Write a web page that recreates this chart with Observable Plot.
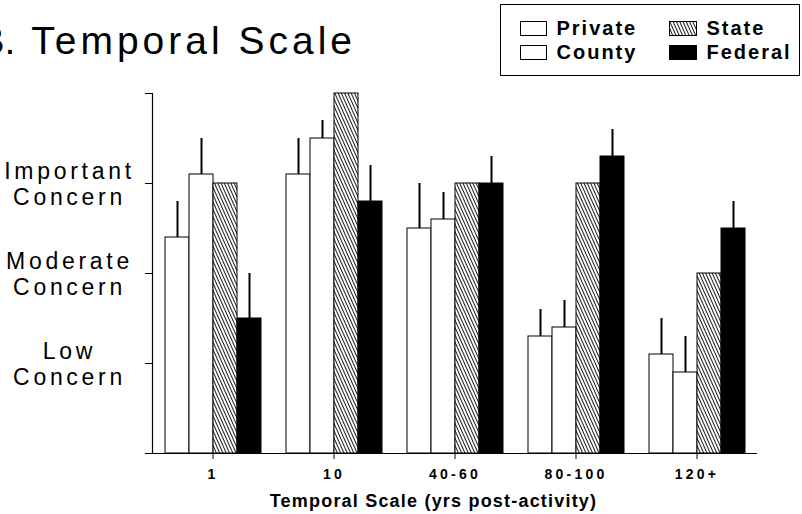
<!DOCTYPE html>
<html>
<head>
<meta charset="utf-8">
<script src="https://cdn.jsdelivr.net/npm/d3@7"></script>
<script src="https://cdn.jsdelivr.net/npm/@observablehq/plot@0.6"></script>
<style>
  html, body { margin: 0; padding: 0; background: #fff; }
  body { width: 802px; height: 514px; overflow: hidden; position: relative;
         font-family: "Liberation Sans", Arial, Helvetica, sans-serif; color: #000; }
  #chart { position: absolute; left: 0; top: 0; }
  #title { position: absolute; top: 21px; right: 446px; font-size: 39px; line-height: 1;
           letter-spacing: 4px; white-space: nowrap; }
  #title .lead { letter-spacing: 0; word-spacing: 5px; }
  #legend { position: absolute; left: 500px; top: 4px; width: 300px; height: 72px;
            box-sizing: border-box; border: 1.5px solid #000; background: #fff; }
  #legend .grid { position: absolute; left: 18.5px; top: 10.5px; display: grid;
                  grid-template-columns: 27px 102px 28px auto; grid-auto-rows: 24px;
                  column-gap: 10px; }
  #legend .sw { margin-top: 5px; height: 15px; box-sizing: border-box; }
  #legend .lab { font-size: 20px; font-weight: bold; letter-spacing: 2px; line-height: 24px; white-space: nowrap; }
  #caption { position: absolute; left: 433.5px; top: 492px; transform: translateX(-50%);
             font-size: 18px; font-weight: bold; letter-spacing: 1.2px; line-height: 1; white-space: nowrap; }
  #chart [aria-label="fx-axis tick label"] text { letter-spacing: 3.2px; font-size: 14px; font-weight: bold; }
  #chart [aria-label="y-axis tick label"] text { letter-spacing: 3.7px; }
</style>
</head>
<body>
<svg width="0" height="0" style="position:absolute">
  <defs>
    <pattern id="hatch" patternUnits="userSpaceOnUse" width="3" height="3" patternTransform="rotate(-24)">
      <rect width="3" height="3" fill="#fff"></rect>
      <line x1="0.5" y1="-1" x2="0.5" y2="4" stroke="#000" stroke-width="0.9"></line>
    </pattern>
  </defs>
</svg>
<div id="chart"></div>
<div id="title"><span class="lead">B. </span>Temporal Scale</div>
<div id="legend"><div class="grid"></div></div>
<div id="caption">Temporal Scale (yrs post-activity)</div>
<script>
// Time since activity (years), one cluster of bars per period
const groups = ["1", "10", "40-60", "80-100", "120+"];
// Landowner categories, one bar each within a cluster
const series = ["Private", "County", "State", "Federal"];

// Mean concern score (0 = none, 1 = low, 2 = moderate, 3 = important)
const privateMean = [2.4, 3.1, 2.5, 1.3, 1.1];
const countyMean  = [3.1, 3.5, 2.6, 1.4, 0.9];
const stateMean   = [3.0, 4.0, 3.0, 3.0, 2.0];
const federalMean = [1.5, 2.8, 3.0, 3.3, 2.5];

// Upper error bar length above each mean (State has none)
const privateErr = [0.4, 0.4, 0.5, 0.3, 0.4];
const countyErr  = [0.4, 0.2, 0.3, 0.3, 0.4];
const stateErr   = [null, null, null, null, null];
const federalErr = [0.5, 0.4, 0.3, 0.3, 0.3];

// Concern levels named on the value axis
const concernTicks = [1, 2, 3];
const concernLabels = ["Low\nConcern", "Moderate\nConcern", "Important\nConcern"];

// Bar fills per category
const fills = ["#fff", "#fff", "url(#hatch)", "#000"];

const means = [privateMean, countyMean, stateMean, federalMean];
const errs = [privateErr, countyErr, stateErr, federalErr];
const rows = [];
series.forEach((s, j) => {
  groups.forEach((g, i) => {
    rows.push({group: g, series: s, value: means[j][i], err: errs[j][i]});
  });
});
const withErr = rows.filter(d => d.err != null);

const labelFor = new Map(concernTicks.map((t, i) => [t, concernLabels[i]]));

const chart = Plot.plot({
  width: 802,
  height: 514,
  marginLeft: 151,
  marginRight: 44,
  marginTop: 93,
  marginBottom: 61,
  style: {fontFamily: "'Liberation Sans', Arial, Helvetica, sans-serif", background: "#fff", color: "#000"},
  fx: {domain: groups, padding: 0},
  x: {domain: series, paddingInner: 0, paddingOuter: 0.47, axis: null},
  y: {domain: [0, 4]},
  color: {domain: series, range: fills},
  marks: [
    Plot.barY(rows, {fx: "group", x: "series", y: "value", fill: "series", stroke: "#000", strokeWidth: 1}),
    Plot.ruleX(withErr, {fx: "group", x: "series", y1: "value", y2: d => d.value + d.err, stroke: "#000", strokeWidth: 2}),
    Plot.ruleY([0], {stroke: "#000", strokeWidth: 1.2}),
    Plot.frame({anchor: "left", facetAnchor: "left", stroke: "#000", strokeWidth: 1.2}),
    Plot.axisY({
      ticks: [0, 1, 2, 3, 4],
      tickSize: 7,
      tickPadding: 76,
      textAnchor: "middle",
      lineHeight: 1.15,
      fontSize: 23,
      tickFormat: t => labelFor.get(t) ?? "",
      label: null
    }),
    Plot.axisFx({
      anchor: "bottom",
      tickSize: 6,
      tickPadding: 10,
      fontSize: 14,
      fontWeight: "bold",
      label: null
    })
  ]
});
document.getElementById("chart").appendChild(chart);

// Legend built from the same categories and fills
const grid = document.querySelector("#legend .grid");
const order = [0, 2, 1, 3]; // Private, State / County, Federal
order.forEach(j => {
  const sw = document.createElement("div");
  sw.className = "sw";
  if (fills[j].startsWith("url")) {
    sw.innerHTML = '<svg width="28" height="15" style="display:block"><rect x="0.5" y="0.5" width="27" height="14" fill="url(#hatch)" stroke="#000" stroke-width="1"/></svg>';
  } else {
    sw.style.background = fills[j];
    sw.style.border = "1px solid #000";
  }
  const lab = document.createElement("div");
  lab.className = "lab";
  lab.textContent = series[j];
  grid.appendChild(sw);
  grid.appendChild(lab);
});
</script>
</body>
</html>
